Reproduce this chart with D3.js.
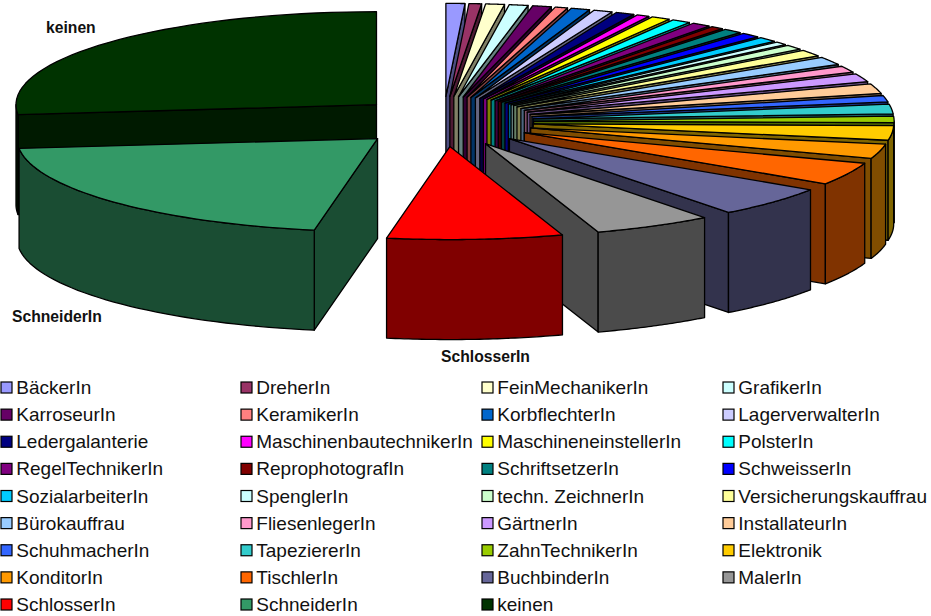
<!DOCTYPE html>
<html>
<head>
<meta charset="utf-8">
<script src="https://cdn.jsdelivr.net/npm/d3@7/dist/d3.min.js"></script>
<style>
html,body{margin:0;padding:0;background:#fff}
svg{display:block}
text{font-family:"Liberation Sans",Arial,sans-serif;fill:#111}
</style>
</head>
<body>
<svg id="chart" width="931" height="616"></svg>
<script>
// Ausbildungsberufe, Anzahl der Nennungen
const categories = ["BäckerIn","DreherIn","FeinMechanikerIn","GrafikerIn",
  "KarroseurIn","KeramikerIn","KorbflechterIn","LagerverwalterIn",
  "Ledergalanterie","MaschinenbautechnikerIn","MaschineneinstellerIn","PolsterIn",
  "RegelTechnikerIn","ReprophotografIn","SchriftsetzerIn","SchweisserIn",
  "SozialarbeiterIn","SpenglerIn","techn. ZeichnerIn","Versicherungskauffrau",
  "Bürokauffrau","FliesenlegerIn","GärtnerIn","InstallateurIn",
  "SchuhmacherIn","TapeziererIn","ZahnTechnikerIn","Elektronik",
  "KonditorIn","TischlerIn","BuchbinderIn","MalerIn",
  "SchlosserIn","SchneiderIn","keinen"];
const values = [3,2,3,3, 3,2,3,3, 3,2,3,3, 3,2,3,3, 3,2,3,4, 5,4,5,6, 4,6,4,9, 9,14,19,19, 28,73,95];
const colors = ["#9999FF","#993366","#FFFFCC","#CCFFFF",
  "#660066","#FF8080","#0066CC","#CCCCFF",
  "#000080","#FF00FF","#FFFF00","#00FFFF",
  "#800080","#800000","#008080","#0000FF",
  "#00CCFF","#CCFFFF","#CCFFCC","#FFFF99",
  "#99CCFF","#FF99CC","#CC99FF","#FFCC99",
  "#3366FF","#33CCCC","#99CC00","#FFCC00",
  "#FF9900","#FF6600","#666699","#969696",
  "#FF0000","#339966","#003300"];
const labelled = ["keinen","SchneiderIn","SchlosserIn"];

// Tilted disc: unit circle mapped to an ellipse on screen
const cx = 443.5, cy = 121.5, rx = 360.5, ry = 93, depth = 100;
const explodeX = 0.25, explodeY = 0.27;
const sx = d3.scaleLinear().domain([-1, 1]).range([cx - rx, cx + rx]);
const sy = d3.scaleLinear().domain([-1, 1]).range([cy - ry, cy + ry]);

const svg = d3.select("#chart");
const line = d3.line();
const outline = {stroke: "#000", width: 1.3};

const shade = c => { const k = d3.rgb(c); return d3.rgb(k.r / 2, k.g / 2, k.b / 2).formatHex(); };

const slices = d3.pie().sort(null).value(d => d)(values).map((a, i) => {
  const mid = (a.startAngle + a.endAngle) / 2;
  return {
    name: categories[i], color: colors[i],
    a0: a.startAngle, a1: a.endAngle, mid,
    ox: explodeX * Math.sin(mid), oy: -explodeY * Math.cos(mid)
  };
});

const rim = (s, t, drop = 0) => [sx(s.ox + Math.sin(t)), sy(s.oy - Math.cos(t)) + drop];
const hub = (s, drop = 0) => [sx(s.ox), sy(s.oy) + drop];
const arcPoints = (s, from, to, drop = 0) =>
  d3.range(0, 41).map(k => rim(s, from + (to - from) * k / 40, drop));

function face(g, pts, fill) {
  g.append("path").attr("d", line(pts) + "Z")
    .attr("fill", fill)
    .attr("stroke", outline.stroke)
    .attr("stroke-width", outline.width)
    .attr("stroke-linejoin", "round");
}

// Back slices first, so the ones nearer the viewer paint over them
const ordered = slices.slice().sort((p, q) =>
  Math.abs(q.mid - Math.PI) - Math.abs(p.mid - Math.PI));

const HALF = Math.PI / 2;
ordered.forEach(s => {
  const g = svg.append("g").attr("class", "slice");
  const dark = shade(s.color);
  // outer wall only on the viewer-facing half of the rim
  const w0 = Math.max(s.a0, HALF), w1 = Math.min(s.a1, 3 * HALF);
  // cut faces that turn towards the viewer
  if (s.a1 < Math.PI) {
    face(g, [hub(s), rim(s, s.a1), rim(s, s.a1, depth), hub(s, depth)], dark);
  }
  if (s.a0 > Math.PI) {
    face(g, [hub(s), rim(s, s.a0), rim(s, s.a0, depth), hub(s, depth)], dark);
  }
  if (w1 > w0) {
    face(g, arcPoints(s, w0, w1).concat(arcPoints(s, w1, w0, depth)), dark);
  }
  face(g, [hub(s)].concat(arcPoints(s, s.a0, s.a1)), s.color);
});

// Slice captions
const captionPos = {keinen: [46, 33], SchneiderIn: [12, 322], SchlosserIn: [441, 362]};
svg.selectAll("text.caption").data(labelled).join("text")
  .attr("class", "caption")
  .attr("x", d => captionPos[d][0])
  .attr("y", d => captionPos[d][1])
  .attr("font-size", 15.7)
  .attr("font-weight", "bold")
  .text(d => d);

// Legend: four columns, filled row by row
const columnX = d3.scaleOrdinal().domain([0, 1, 2, 3]).range([1, 241, 482, 723]);
const rowY = d3.scaleLinear().domain([0, 8]).range([387.5, 604.5]);
const legend = svg.append("g").selectAll("g").data(categories).join("g")
  .attr("transform", (d, i) => `translate(${columnX(i % 4)},${rowY(Math.floor(i / 4))})`);
legend.append("rect")
  .attr("x", 0).attr("y", -5.5).attr("width", 11).attr("height", 11)
  .attr("fill", (d, i) => colors[i])
  .attr("stroke", "#000").attr("stroke-width", 1.2);
legend.append("text")
  .attr("x", 15.3).attr("y", 6.6)
  .attr("font-size", 19)
  .text(d => d);
</script>
</body>
</html>
